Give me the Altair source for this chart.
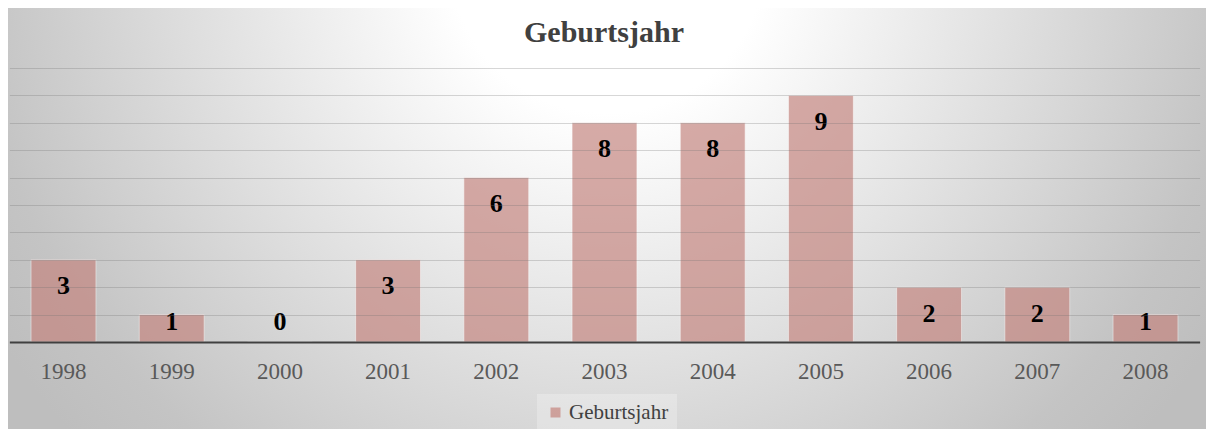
import altair as alt
import pandas as pd

years = ["1998", "1999", "2000", "2001", "2002", "2003", "2004", "2005", "2006", "2007", "2008"]
counts = [3, 1, 0, 3, 6, 8, 8, 9, 2, 2, 1]
series_name = "Geburtsjahr"
chart_title = "Geburtsjahr"
grid_values = list(range(0, 11))

df = pd.DataFrame({"year": years, "v": counts, "s": [series_name] * len(years)})
title_df = pd.DataFrame({"t": [chart_title]})

W, H = 1198, 421
SERIF = "Liberation Serif"

xscale = alt.Scale(domain=years, range=[1.4, 1191.6], paddingInner=0.4, paddingOuter=0.2)
yscale = alt.Scale(domain=[-3.175, 12.19], nice=False, zero=False)

gradient = alt.RadialGradient(
    gradient="radial", x1=0.5, y1=0.28, r1=0, x2=0.5, y2=0.28, r2=0.6,
    stops=[
        alt.GradientStop(offset=0.0, color="#ffffff"),
        alt.GradientStop(offset=0.22, color="#ffffff"),
        alt.GradientStop(offset=0.88, color="#c4c4c4"),
        alt.GradientStop(offset=1.0, color="#bebebe"),
    ],
)

bg = alt.Chart(title_df).mark_rect(fill=gradient, strokeWidth=0).encode(
    x=alt.value(0), x2=alt.value(W), y=alt.value(0), y2=alt.value(H)
)

bars = alt.Chart(df).mark_bar(
    opacity=0.68, stroke="white", strokeWidth=1, strokeOpacity=0.6
).encode(
    x=alt.X("year:N", scale=xscale, sort=years,
            axis=alt.Axis(title=None, offset=-87, domainColor="#404040", domainWidth=2,
                          ticks=False, grid=False, labelFont=SERIF, labelFontSize=23,
                          labelColor="#595959", labelPadding=18, labelAngle=0, zindex=2)),
    y=alt.Y("v:Q", scale=yscale,
            axis=alt.Axis(title=None, values=grid_values, labels=False, ticks=False,
                          domain=False, grid=True, gridColor="#707070", gridOpacity=0.28,
                          gridWidth=1, zindex=1)),
    y2=alt.datum(0),
    color=alt.Color("s:N", scale=alt.Scale(domain=[series_name], range=["#c4847e"]),
                    legend=alt.Legend(title=None, orient="none", legendX=529, legendY=386,
                                      padding=8, fillColor="rgba(255,255,255,0.25)",
                                      symbolType="square", symbolSize=100, symbolOpacity=0.7,
                                      symbolStrokeWidth=0, labelFont=SERIF, labelFontSize=21,
                                      labelColor="#404040", labelOffset=3)),
)

labels = alt.Chart(df).transform_calculate(
    ly="max(datum.v - 0.97, 0.73)"
).mark_text(
    font=SERIF, fontSize=26, fontWeight="bold", color="black", baseline="middle"
).encode(
    x=alt.X("year:N", scale=xscale, sort=years),
    y=alt.Y("ly:Q", scale=yscale),
    text="v:Q",
)

title = alt.Chart(title_df).mark_text(
    font=SERIF, fontSize=30, fontWeight="bold", color="#404040", baseline="alphabetic",
    align="center"
).encode(
    x=alt.value(596), y=alt.value(34), text="t:N"
)

chart = alt.layer(bg, bars, labels, title).properties(
    width=W, height=H, padding=0, autosize=alt.AutoSizeParams(type="none")
).configure_view(
    strokeWidth=0
).configure(background="#d8d8d8")

chart.save("out.html", embed_options={"renderer": "svg", "actions": False})
